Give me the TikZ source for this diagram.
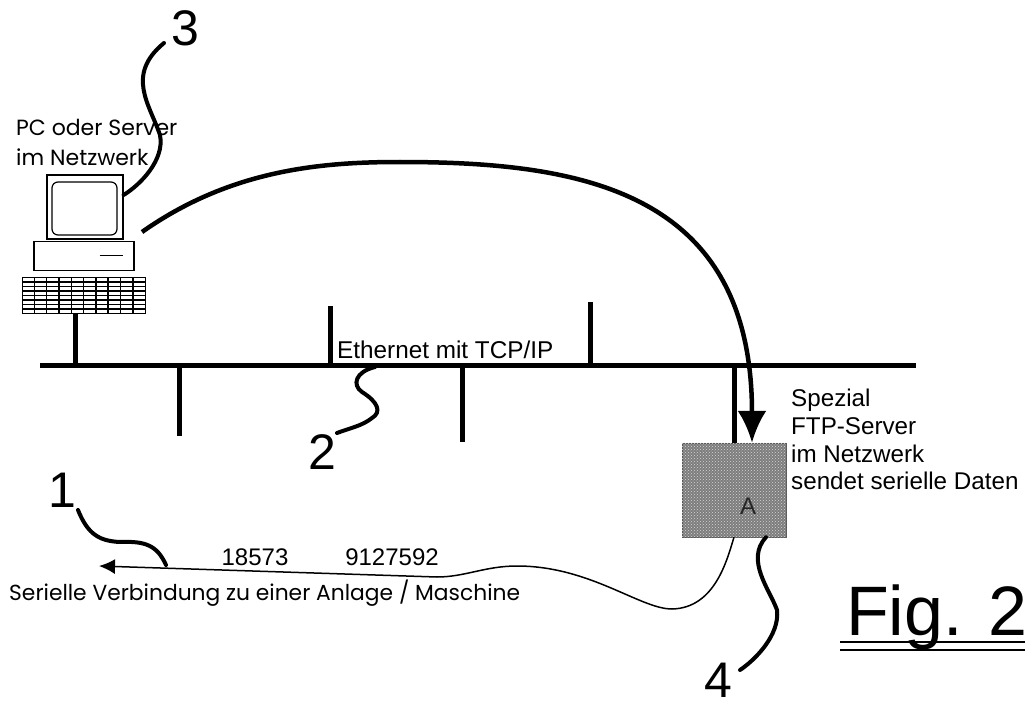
\documentclass[tikz,border=0pt]{standalone}
\usepackage{fontspec}
\setmainfont{Liberation Sans}
\newfontfamily\roundfont{Poppins}
\usepackage{tikz}
\usetikzlibrary{arrows.meta,positioning,patterns}
\definecolor{boxgray}{RGB}{125,125,125}

\begin{document}
\begin{tikzpicture}[x=1pt,y=-1pt,
    bus/.style={line width=5pt},
    leader/.style={line width=4pt,line cap=round},
    pcpart/.style={rectangle,draw,line width=1.2pt,fill=white,inner sep=0pt},
    refnum/.style={font=\fontsize{50}{50}\selectfont,inner sep=0pt},
    label/.style={font=\fontsize{24.2}{27.7}\selectfont,align=left,inner sep=0pt},
    roundlabel/.style={font=\fontsize{22}{30}\selectfont\roundfont,align=left,inner sep=0pt},
    numlabel/.style={font=\fontsize{24}{24}\selectfont,inner sep=0pt}
]
    \useasboundingbox (0,0) rectangle (1031,706);
    % pc
    \node[pcpart,minimum width=76pt,minimum height=64pt] (monitor) at (85,207) {};
    \node[pcpart,rounded corners=6pt,minimum width=65pt,minimum height=53pt] (screen) at (84.5,208.5) {};
    \node[pcpart,minimum width=100pt,minimum height=29pt,below=1pt of monitor.south,xshift=-1pt] (base) {};
    \node[pcpart,minimum width=123pt,minimum height=36pt,below=6pt of base.south,line width=0.8pt] (keyboard) {};
    \draw[line width=1pt] ([xshift=-35pt]base.east) -- ([xshift=-12pt]base.east);
    \foreach \kx in {1,...,9}
        \draw[line width=1.5pt] ([xshift=\kx*12.3pt]keyboard.south west) -- ([xshift=\kx*12.3pt]keyboard.north west);
    \foreach \ky in {1,...,7}
        \draw[line width=1.6pt] ([yshift=\ky*4.5pt]keyboard.south west) -- ([yshift=\ky*4.5pt]keyboard.south east);
    \node[roundlabel] (pclabel) at (16,142) [anchor=west] {PC oder Server\\im Netzwerk};

    % ethernet
    \coordinate (busleft) at (40,365);
    \coordinate (busright) at (916,365);
    \coordinate (busleg) at (375,367);
    \draw[bus] (busleft) -- (busright);
    \node[inner sep=0pt,font=\fontsize{24.3}{24}\selectfont,anchor=west] (ethlabel) at (337,350) {Ethernet mit TCP/IP};
    \draw[bus] ([xshift=53pt]keyboard.south west) -- ([xshift=53pt]keyboard.south west |- busleft);
    \foreach \stubx/\stuby in {179/436,330/306,462/442,590/302}
        \draw[bus] (\stubx,\stuby) -- (\stubx,0 |- busleft);

    % ftp server
    \node[rectangle,draw=boxgray!70!black,fill=boxgray,minimum width=104pt,minimum height=94pt,inner sep=0pt] (ftpbox) at (734,490) {};
    \fill[pattern=crosshatch dots,pattern color=white!70!boxgray] (ftpbox.south west) rectangle (ftpbox.north east);
    \node[inner sep=0pt,font=\fontsize{24}{24}\selectfont,text=black!85] (boxletter) at (748,506) {A};
    \draw[bus] (ftpbox.north |- busleft) -- (ftpbox.north);
    \node[label,anchor=north west] (ftplabel) at (791,389) {Spezial\\FTP-Server\\im Netzwerk\\sendet serielle Daten};

    % arc
    \coordinate (arcstart) at (142,232);
    \draw[line width=4.5pt,-{Latex[length=32pt,width=29pt]}] (arcstart) .. controls (230,170) and (320,162) .. (400,162)
        .. controls (580,162) and (752,190) .. ([xshift=18pt]ftpbox.north);

    % serial line
    \coordinate (linewest) at (99,566);
    \draw[line width=1.5pt,-{Latex[length=16pt,width=15pt]}] (ftpbox.south) .. controls (727,560) and (715,608) .. (672,609)
        .. controls (640,609) and (590,566) .. (517,566) .. controls (485,566) and (465,577) .. (437,577) -- (linewest);
    \node[numlabel] (numa) at (255,557.5) {18573};
    \node[numlabel] (numb) at (392,557.5) {9127592};
    \node[roundlabel,font=\fontsize{21.8}{22}\selectfont\roundfont,anchor=west] (seriallabel) at (9,593) {Serielle Verbindung zu einer Anlage / Maschine};

    % reference numbers
    \node[refnum] (one) at (62,490) {1};
    \node[refnum] (two) at (322,452) {2};
    \node[refnum] (three) at (185,28) {3};
    \node[refnum] (four) at (718,680) {4};
    \coordinate (leadone) at (78,510);
    \coordinate (leadonew) at (166,565);
    \coordinate (leadtwo) at (337,433);
    \coordinate (leadthree) at (164,43);
    \coordinate (leadfour) at (740,670);
    \draw[leader] (leadone) .. controls (88,535) and (100,541) .. (120,542) .. controls (145,541) and (157,545) .. (leadonew);
    \draw[leader] (busleg) .. controls (355,372) and (352,385) .. (362,392) .. controls (378,402) and (382,412) .. (372,418) .. controls (362,426) and (350,428) .. (leadtwo);
    \draw[leader] (leadthree) .. controls (125,75) and (150,105) .. (160,135) .. controls (165,160) and (140,185) .. ([yshift=12pt]monitor.east);
    \draw[leader] ([xshift=32pt]ftpbox.south) .. controls (745,560) and (770,590) .. (777,610) .. controls (780,635) and (755,660) .. (leadfour);

    % figure title
    \node[inner sep=0pt,font=\fontsize{70}{70}\selectfont,anchor=base west] (figlabel) at (846,635) {Fig. 2};
    \draw[line width=2pt] (840,642) -- (1025,642);
    \draw[line width=2pt] (840,650) -- (1025,650);
\end{tikzpicture}
\end{document}
